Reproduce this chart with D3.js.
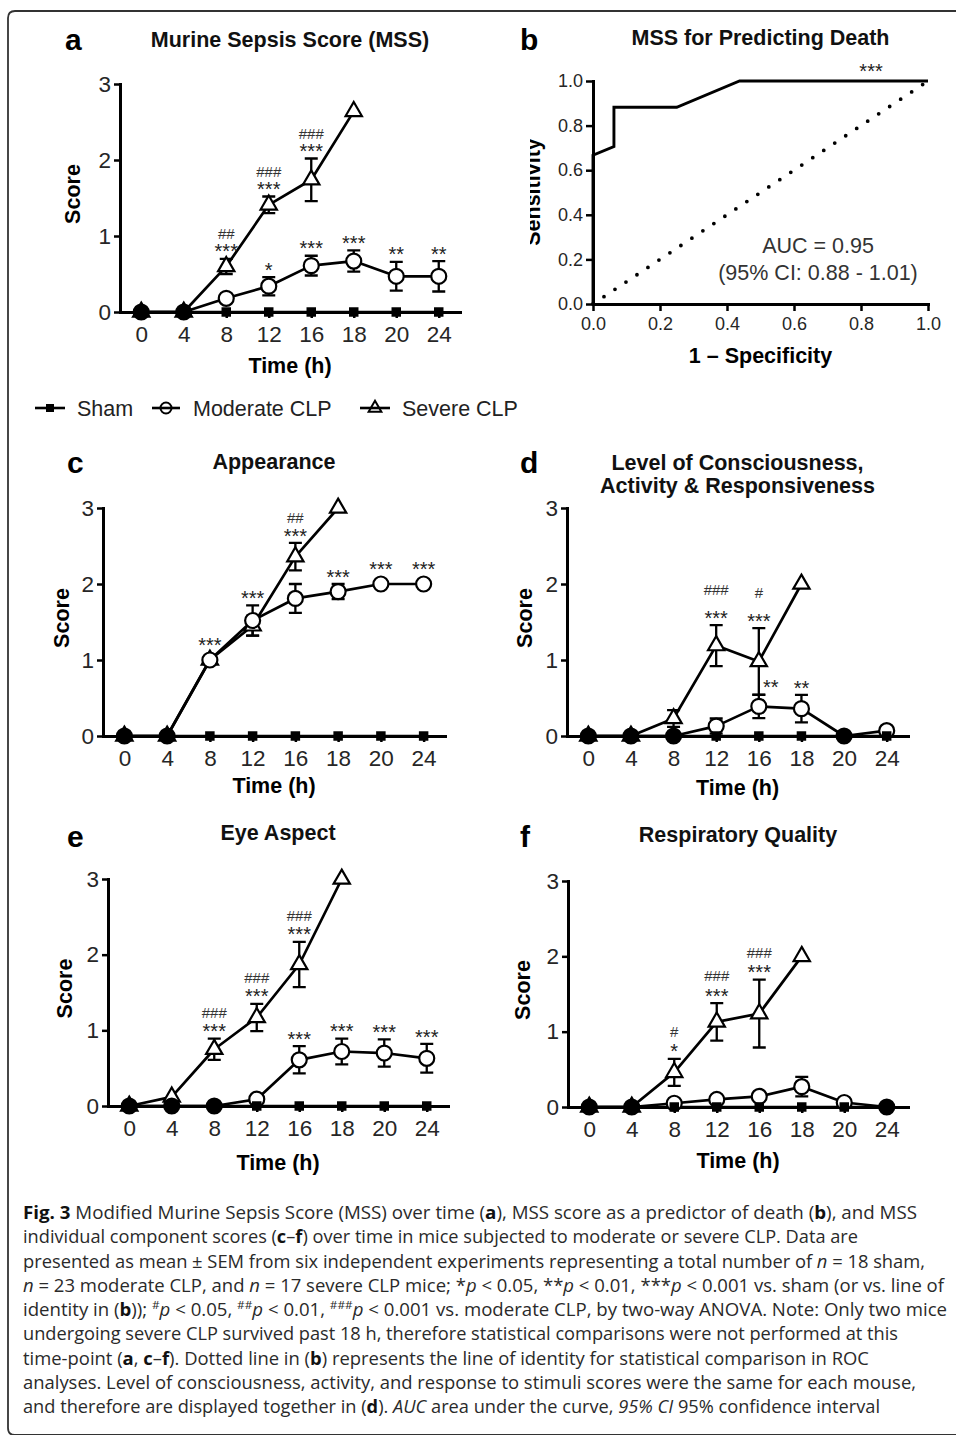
<!DOCTYPE html>
<html><head><meta charset="utf-8">
<script src="https://cdn.jsdelivr.net/npm/d3@7"></script>
<style>
body{margin:0;background:#fff;}
svg{display:block;}
</style></head>
<body>
<svg id="fig" width="956" height="1435"></svg>
<script>
// ---------------- DATA ----------------
const timeLabels = ["0","4","8","12","16","18","20","24"];
const shamScore = [0,0,0,0,0,0,0,0];

// (a) Murine Sepsis Score
const mssModerate    = [0,0,0.18,0.34,0.61,0.67,0.47,0.47];
const mssModerateSEM = [0,0,0.04,0.12,0.13,0.14,0.19,0.20];
const mssSevere      = [0,0,0.60,1.41,1.74,2.64,null,null];
const mssSevereSEM   = [0,0,0.10,0.11,0.28,0,null,null];
const mssSigModerate = ["","","","*","***","***","**","**"];
const mssSigSevere   = ["","","***","***","***","","",""];
const mssHashSevere  = ["","","##","###","###","","",""];

// (b) ROC
const rocFPR = [0,0,0.0625,0.0625,0.25,0.4375,1.0];
const rocTPR = [0,0.667,0.706,0.882,0.882,1.0,1.0];
const identityLine = [0,1];
const rocTicks = [0,0.2,0.4,0.6,0.8,1.0];
const rocSig = "***";
const aucLines = ["AUC = 0.95","(95% CI: 0.88 - 1.01)"];

// (c) Appearance
const appModerate    = [0,0,1.0,1.52,1.81,1.90,2.0,2.0];
const appModerateSEM = [0,0,0,0.20,0.19,0.10,0,0];
const appSevere      = [0,0,1.0,1.45,2.36,3.0,null,null];
const appSevereSEM   = [0,0,0,0.13,0.18,0,null,null];
const appSigModerate = ["","","***","***","","***","***","***"];
const appSigSevere   = ["","","","","***","","",""];
const appHashSevere  = ["","","","","##","","",""];

// (d) Level of consciousness, activity & responsiveness
const locModerate    = [0,0,0,0.13,0.39,0.36,0,0.07];
const locModerateSEM = [0,0,0,0.10,0.155,0.18,0,0];
const locSevere      = [0,0,0.23,1.19,0.98,2.0,null,null];
const locSevereSEM   = [0,0,0.11,0.27,0.44,0,null,null];
const locSigModerate = ["","","","","**","**","",""];
const locSigSevere   = ["","","","***","***","","",""];
const locHashSevere  = ["","","","###","#","","",""];

// (e) Eye aspect
const eyeModerate    = [0,0,0,0.09,0.61,0.72,0.70,0.63];
const eyeModerateSEM = [0,0,0,0,0.18,0.17,0.18,0.19];
const eyeSevere      = [0,0.12,0.75,1.17,1.87,3.0,null,null];
const eyeSevereSEM   = [0,0,0.14,0.18,0.30,0,null,null];
const eyeSigModerate = ["","","","","***","***","***","***"];
const eyeSigSevere   = ["","","***","***","***","","",""];
const eyeHashSevere  = ["","","###","###","###","","",""];

// (f) Respiratory quality
const respModerate    = [0,0,0.05,0.10,0.14,0.27,0.06,0];
const respModerateSEM = [0,0,0,0,0,0.13,0,0];
const respSevere      = [0,0,0.46,1.13,1.24,2.0,null,null];
const respSevereSEM   = [0,0,0.18,0.25,0.45,0,null,null];
const respSigModerate = ["","","","","","","",""];
const respSigSevere   = ["","","*","***","***","","",""];
const respHashSevere  = ["","","#","###","###","","",""];

const legendItems = ["Sham","Moderate CLP","Severe CLP"];

const captionLines = [
  [["Fig. 3","b"],[" Modified Murine Sepsis Score (MSS) over time ("],["a","b"],["), MSS score as a predictor of death ("],["b","b"],["), and MSS"]],
  [["individual component scores ("],["c","b"],["–"],["f","b"],[") over time in mice subjected to moderate or severe CLP. Data are"]],
  [["presented as mean ± SEM from six independent experiments representing a total number of "],["n","i"],[" = 18 sham,"]],
  [["n","i"],[" = 23 moderate CLP, and "],["n","i"],[" = 17 severe CLP mice; *"],["p","i"],[" < 0.05, **"],["p","i"],[" < 0.01, ***"],["p","i"],[" < 0.001 vs. sham (or vs. line of"]],
  [["identity in ("],["b","b"],[")); "],["#","s"],["p","i"],[" < 0.05, "],["##","s"],["p","i"],[" < 0.01, "],["###","s"],["p","i"],[" < 0.001 vs. moderate CLP, by two-way ANOVA. Note: Only two mice"]],
  [["undergoing severe CLP survived past 18 h, therefore statistical comparisons were not performed at this"]],
  [["time-point ("],["a","b"],[", "],["c","b"],["–"],["f","b"],["). Dotted line in ("],["b","b"],[") represents the line of identity for statistical comparison in ROC"]],
  [["analyses. Level of consciousness, activity, and response to stimuli scores were the same for each mouse,"]],
  [["and therefore are displayed together in ("],["d","b"],["). "],["AUC","i"],[" area under the curve, "],["95% CI","i"],[" 95% confidence interval"]]
];

// ---------------- LAYOUT ----------------
const SANS = "'Liberation Sans', Arial, Helvetica, sans-serif";
const svg = d3.select("#fig");
const defs = svg.append("defs");

const panels = [
  {key:"a", lx:65, ly:50, title:["Murine Sepsis Score (MSS)"], titleY:[47], x0:120, x1:460, y0:312, y3:84, scoreX:73, timeY:373,
   mod:mssModerate, modSEM:mssModerateSEM, sev:mssSevere, sevSEM:mssSevereSEM, sigMod:mssSigModerate, sigSev:mssSigSevere, hashSev:mssHashSevere, hashGap:13, nudge:{}},
  {key:"c", lx:67, ly:473, title:["Appearance"], titleY:[469], x0:103, x1:445, y0:736, y3:508, scoreX:62, timeY:793,
   mod:appModerate, modSEM:appModerateSEM, sev:appSevere, sevSEM:appSevereSEM, sigMod:appSigModerate, sigSev:appSigSevere, hashSev:appHashSevere, hashGap:13, nudge:{}},
  {key:"d", lx:520, ly:473, title:["Level of Consciousness,","Activity & Responsiveness"], titleY:[470,493], x0:567, x1:908, y0:736, y3:508, scoreX:525, timeY:795,
   mod:locModerate, modSEM:locModerateSEM, sev:locSevere, sevSEM:locSevereSEM, sigMod:locSigModerate, sigSev:locSigSevere, hashSev:locHashSevere, hashGap:23, nudge:{4:12}},
  {key:"e", lx:67, ly:847, title:["Eye Aspect"], titleY:[840], x0:108, x1:448, y0:1106, y3:879, scoreX:65, timeY:1170,
   mod:eyeModerate, modSEM:eyeModerateSEM, sev:eyeSevere, sevSEM:eyeSevereSEM, sigMod:eyeSigModerate, sigSev:eyeSigSevere, hashSev:eyeHashSevere, hashGap:14, nudge:{}},
  {key:"f", lx:520, ly:847, title:["Respiratory Quality"], titleY:[842], x0:568, x1:908, y0:1107, y3:881, scoreX:523, timeY:1168,
   mod:respModerate, modSEM:respModerateSEM, sev:respSevere, sevSEM:respSevereSEM, sigMod:respSigModerate, sigSev:respSigSevere, hashSev:respHashSevere, hashGap:15, nudge:{}}
];

// frame
svg.append("path").attr("d","M956,11 H15 Q8,11 8,18 V1428 Q8,1435 15,1435 H956")
  .attr("fill","none").attr("stroke","#333").attr("stroke-width",1.8);

function styleAxis(a, fs){
  a.select(".domain").attr("stroke","#000").attr("stroke-width",3).attr("stroke-linecap","square");
  a.selectAll(".tick line").attr("stroke","#000").attr("stroke-width",2.5);
  a.selectAll(".tick text").attr("font-size",fs).attr("font-family",SANS).attr("fill","#262626");
}

const symCircle = d3.symbol().type(d3.symbolCircle).size(Math.PI*7.5*7.5);
const symTri = d3.symbol().type(d3.symbolTriangle).size(115);
const symSq = d3.symbol().type(d3.symbolSquare).size(90);

function drawTimePanel(p){
  const g = svg.append("g");
  const x = d3.scalePoint().domain(timeLabels).range([p.x0,p.x1]).padding(0.5);
  const y = d3.scaleLinear().domain([0,3]).range([p.y0,p.y3]);

  g.append("text").attr("x",p.lx).attr("y",p.ly).text(p.key)
    .attr("font-size",30).attr("font-weight","bold").attr("font-family",SANS);
  p.title.forEach((t,i)=>{
    g.append("text").attr("x",(p.x0+p.x1)/2).attr("y",p.titleY[i]).attr("text-anchor","middle")
      .attr("font-size",21.5).attr("font-weight","bold").attr("font-family",SANS).attr("fill","#111").text(t);
  });

  const xa = g.append("g").attr("transform",`translate(0,${p.y0})`)
    .call(d3.axisBottom(x).tickSize(6).tickSizeOuter(0).tickPadding(8));
  const ya = g.append("g").attr("transform",`translate(${p.x0},0)`)
    .call(d3.axisLeft(y).tickValues([0,1,2,3]).tickFormat(d3.format("d")).tickSize(6).tickSizeOuter(0).tickPadding(3));
  styleAxis(xa,22.5); styleAxis(ya,22.5);

  g.append("text").attr("transform",`translate(${p.scoreX},${(p.y0+p.y3)/2-4}) rotate(-90)`)
    .attr("text-anchor","middle").attr("dominant-baseline","central")
    .attr("font-size",21.5).attr("font-weight","bold").attr("font-family",SANS).text("Score");
  g.append("text").attr("x",(p.x0+p.x1)/2).attr("y",p.timeY).attr("text-anchor","middle")
    .attr("font-size",21.5).attr("font-weight","bold").attr("font-family",SANS).text("Time (h)");

  const line = d3.line().defined(d=>d[1]!=null).x(d=>x(d[0])).y(d=>y(d[1]));
  const zipped = arr => timeLabels.map((t,i)=>[t,arr[i]]);
  [shamScore,p.mod,p.sev].forEach(arr=>{
    g.append("path").attr("d",line(zipped(arr))).attr("fill","none")
      .attr("stroke","#000").attr("stroke-width",2.7).attr("stroke-linejoin","round");
  });

  // error bars
  [[p.mod,p.modSEM],[p.sev,p.sevSEM]].forEach(([vals,sems])=>{
    vals.forEach((v,i)=>{
      if(v==null || !sems[i]) return;
      const cx = x(timeLabels[i]), yt = y(v+sems[i]), yb = y(v-sems[i]);
      g.append("path").attr("d",`M${cx},${yt}V${yb}M${cx-6.5},${yt}H${cx+6.5}M${cx-6.5},${yb}H${cx+6.5}`)
        .attr("fill","none").attr("stroke","#000").attr("stroke-width",2.3);
    });
  });

  // markers
  p.sev.forEach((v,i)=>{
    if(v==null) return;
    g.append("path").attr("d",symTri()).attr("transform",`translate(${x(timeLabels[i])},${y(v)})`)
      .attr("fill","#fff").attr("stroke","#000").attr("stroke-width",2.2);
  });
  p.mod.forEach((v,i)=>{
    if(v==null) return;
    g.append("path").attr("d",symCircle()).attr("transform",`translate(${x(timeLabels[i])},${y(v)})`)
      .attr("fill", v===0 ? "#000" : "#fff").attr("stroke","#000").attr("stroke-width",2.2);
  });
  shamScore.forEach((v,i)=>{
    g.append("path").attr("d",symSq()).attr("transform",`translate(${x(timeLabels[i])},${y(v)})`)
      .attr("fill","#000");
  });

  // significance annotations
  function annot(vals, sems, sig, hash, nudge){
    sig.forEach((s,i)=>{
      if(!s) return;
      const v = vals[i];
      const top = sems[i]>0 ? y(v+sems[i]) : y(v)-8;
      const c = top - 12;
      const cx = x(timeLabels[i]) + (nudge[i]||0);
      g.append("text").attr("x",cx).attr("y",c+11.6).attr("text-anchor","middle")
        .attr("font-size",20).attr("font-family",SANS).attr("fill","#222").text(s);
      if(hash && hash[i]){
        g.append("text").attr("x",cx).attr("y",c-p.hashGap+5.3).attr("text-anchor","middle")
          .attr("font-size",15).attr("font-family",SANS).attr("fill","#333").text(hash[i]);
      }
    });
  }
  annot(p.mod, p.modSEM, p.sigMod, null, p.nudge);
  annot(p.sev, p.sevSEM, p.sigSev, p.hashSev, {});
}
panels.forEach(drawTimePanel);

// ---------------- PANEL B ----------------
(function(){
  const g = svg.append("g");
  const bx = d3.scaleLinear().domain([0,1]).range([593,928]);
  const by = d3.scaleLinear().domain([0,1]).range([304,81]);
  g.append("text").attr("x",520).attr("y",50).text("b")
    .attr("font-size",30).attr("font-weight","bold").attr("font-family",SANS);
  g.append("text").attr("x",760.5).attr("y",45).attr("text-anchor","middle")
    .attr("font-size",21.5).attr("font-weight","bold").attr("font-family",SANS).attr("fill","#111").text("MSS for Predicting Death");

  const xa = g.append("g").attr("transform","translate(0,304)")
    .call(d3.axisBottom(bx).tickValues(rocTicks).tickFormat(d3.format(".1f")).tickSize(7).tickSizeOuter(0).tickPadding(6));
  const ya = g.append("g").attr("transform","translate(593,0)")
    .call(d3.axisLeft(by).tickValues(rocTicks).tickFormat(d3.format(".1f")).tickSize(7).tickSizeOuter(0).tickPadding(3));
  styleAxis(xa,18); styleAxis(ya,18);

  // identity dotted line
  g.append("path").attr("d",d3.line().x(d=>bx(d)).y(d=>by(d))(identityLine))
    .attr("fill","none").attr("stroke","#000").attr("stroke-width",3.8)
    .attr("stroke-linecap","round").attr("stroke-dasharray","0,13.2");
  // ROC curve
  g.append("path").attr("d",d3.line().x(d=>bx(d[0])).y(d=>by(d[1]))(rocFPR.map((f,i)=>[f,rocTPR[i]])))
    .attr("fill","none").attr("stroke","#000").attr("stroke-width",2.9).attr("stroke-linejoin","miter");

  g.append("text").attr("x",bx(0.83)).attr("y",by(1)-3).attr("text-anchor","middle")
    .attr("font-size",20).attr("font-family",SANS).attr("fill","#222").text(rocSig);
  aucLines.forEach((t,i)=>{
    g.append("text").attr("x",818).attr("y",253+i*27).attr("text-anchor","middle")
      .attr("font-size",21.5).attr("font-family",SANS).attr("fill","#333").text(t);
  });

  // clipped y-axis label (cut off at its top edge, as in the original)
  defs.append("clipPath").attr("id","sensClip").append("rect")
    .attr("x",530).attr("y",60).attr("width",40).attr("height",260);
  g.append("g").attr("clip-path","url(#sensClip)")
    .append("text").attr("transform","translate(540,192) rotate(-90)").attr("text-anchor","middle")
    .attr("font-size",21.5).attr("font-weight","bold").attr("font-family",SANS).text("Sensitivity");
  g.append("text").attr("x",760.5).attr("y",363).attr("text-anchor","middle")
    .attr("font-size",21.5).attr("font-weight","bold").attr("font-family",SANS).text("1 – Specificity");
})();

// ---------------- LEGEND ----------------
(function(){
  const g = svg.append("g");
  const ly = 408;
  const pos = [{l:35,r:65,tx:77},{l:152,r:180,tx:193},{l:360,r:390,tx:402}];
  const syms = [
    d3.symbol().type(d3.symbolSquare).size(64),
    d3.symbol().type(d3.symbolCircle).size(Math.PI*5.5*5.5),
    d3.symbol().type(d3.symbolTriangle).size(70)
  ];
  legendItems.forEach((name,i)=>{
    const p = pos[i];
    g.append("line").attr("x1",p.l).attr("x2",p.r).attr("y1",ly).attr("y2",ly).attr("stroke","#000").attr("stroke-width",2.6);
    g.append("path").attr("d",syms[i]()).attr("transform",`translate(${(p.l+p.r)/2},${ly})`)
      .attr("fill", i===0 ? "#000" : "none").attr("stroke","#000").attr("stroke-width",i===0?0:2);
    g.append("text").attr("x",p.tx).attr("y",ly+7.5).attr("font-size",21.5).attr("font-family",SANS).attr("fill","#222").text(name);
  });
})();

// ---------------- CAPTION ----------------
(function(){
  const capRight = [917, 858, 925, 944, 947, 898, 869, 916, 880];
  const x0 = 23, base = 1219, step = 24.25;
  captionLines.forEach((segs,li)=>{
    const t = svg.append("text").attr("x",x0).attr("y",base+li*step)
      .attr("font-size",17.4).attr("font-family","'Open Sans', 'Noto Sans', sans-serif").attr("fill","#2a2a2a")
      .attr("textLength",capRight[li]-x0).attr("lengthAdjust","spacingAndGlyphs");
    segs.forEach(([txt,st])=>{
      const ts = t.append("tspan").text(txt);
      if(st==="b") ts.attr("font-weight","bold").attr("fill","#111");
      if(st==="i") ts.attr("font-style","italic");
      if(st==="s") ts.attr("baseline-shift","super").attr("font-size",11);
    });
  });
})();
</script>
</body></html>
